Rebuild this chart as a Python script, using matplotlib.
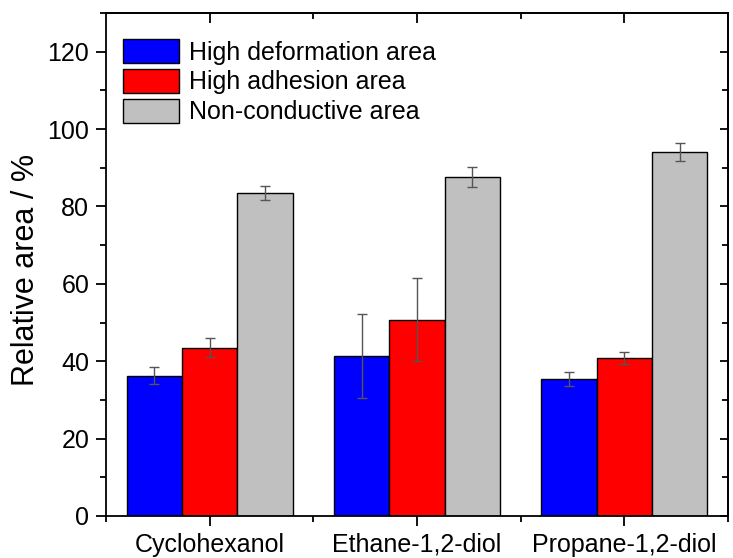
import numpy as np
import matplotlib.pyplot as plt
from matplotlib.ticker import MultipleLocator, FixedLocator, NullFormatter

plt.rcParams['font.family'] = ['Liberation Sans', 'DejaVu Sans']

categories = ["Cyclohexanol", "Ethane-1,2-diol", "Propane-1,2-diol"]
series = ["High deformation area", "High adhesion area", "Non-conductive area"]
deformation = [36.2, 41.4, 35.4]
deformation_err = [2.2, 10.8, 1.9]
adhesion = [43.5, 50.7, 40.8]
adhesion_err = [2.5, 10.7, 1.6]
nonconductive = [83.5, 87.7, 94.1]
nonconductive_err = [1.9, 2.6, 2.3]
colors = ["#0000ff", "#ff0000", "#c0c0c0"]

values = [deformation, adhesion, nonconductive]
errors = [deformation_err, adhesion_err, nonconductive_err]

fig = plt.figure(figsize=(7.33, 5.58), dpi=100)
ax = fig.add_axes([0.1446, 0.0753, 0.9932 - 0.1446, 0.9767 - 0.0753])

x = np.arange(1, len(categories) + 1)
w = 0.267
for i in range(3):
    ax.bar(x + (i - 1) * w, values[i], w, color=colors[i], edgecolor='black',
           linewidth=1.0, label=series[i],
           yerr=errors[i], error_kw=dict(ecolor='#555555', elinewidth=1.0,
                                         capsize=3.6, capthick=1.0))

ax.set_xlim(0.5, 3.5)
ax.set_ylim(0, 130)
ax.set_xticks(x)
ax.set_xticklabels(categories)
ax.xaxis.set_minor_locator(FixedLocator([0.5, 1.5, 2.5, 3.5]))
ax.yaxis.set_major_locator(MultipleLocator(20))
ax.yaxis.set_minor_locator(MultipleLocator(10))
ax.tick_params(axis='both', which='major', direction='out', length=7, width=1.3,
               labelsize=18, pad=5)
ax.tick_params(axis='both', which='minor', direction='out', length=4, width=1.3)
ax.set_ylabel("Relative area / %", fontsize=22)
ax.yaxis.set_label_coords(-0.105, 0.49)

for s in ax.spines.values():
    s.set_linewidth(1.3)

# mirrored inward ticks on top and right
top = ax.secondary_xaxis('top')
top.set_xticks(x)
top.xaxis.set_minor_locator(FixedLocator([1.5, 2.5]))
top.xaxis.set_major_formatter(NullFormatter())
top.tick_params(which='major', direction='in', length=7, width=1.3)
top.tick_params(which='minor', direction='in', length=4, width=1.3)
right = ax.secondary_yaxis('right')
right.yaxis.set_major_locator(MultipleLocator(20))
right.yaxis.set_minor_locator(MultipleLocator(10))
right.yaxis.set_major_formatter(NullFormatter())
right.tick_params(which='major', direction='in', length=6, width=1.3)
right.tick_params(which='minor', direction='in', length=4, width=1.3)
for sec in (top, right):
    for s in sec.spines.values():
        s.set_linewidth(1.3)

ax.legend(loc='upper left', bbox_to_anchor=(0.027, 0.948), frameon=False,
          fontsize=18, handlelength=2.24, handleheight=1.08, labelspacing=0.18,
          handletextpad=0.4, borderaxespad=0, borderpad=0)

fig.savefig("out.png", dpi=100)
